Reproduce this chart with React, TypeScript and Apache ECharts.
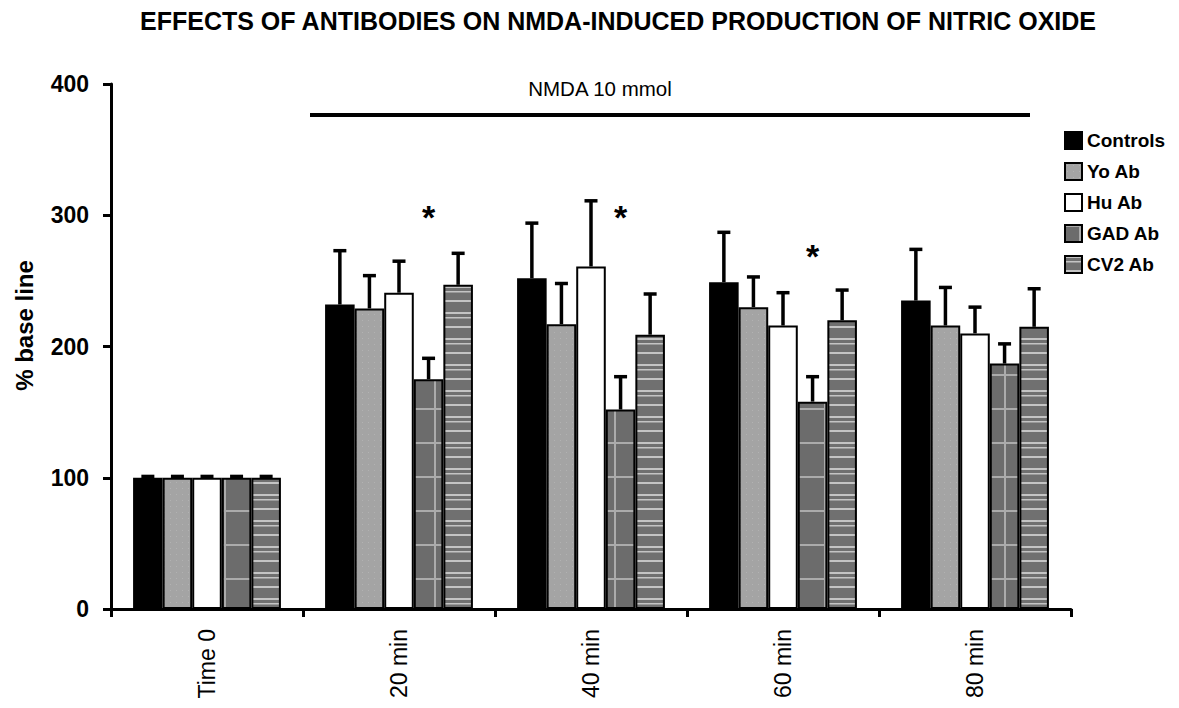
import React, { useEffect, useRef } from 'react';
import * as echarts from 'echarts';

const categories = ['Time 0', '20 min', '40 min', '60 min', '80 min'];
const seriesNames = ['Controls', 'Yo Ab', 'Hu Ab', 'GAD Ab', 'CV2 Ab'];

const controls = [100, 232, 252, 249, 235];
const yoAb = [100, 229, 217, 230, 216];
const huAb = [100, 241, 261, 216, 210];
const gadAb = [100, 175, 152, 158, 187];
const cv2Ab = [100, 247, 209, 220, 215];

const controlsErr = [1, 41, 42, 38, 39];
const yoAbErr = [1, 25, 31, 23, 29];
const huAbErr = [1, 24, 50, 25, 20];
const gadAbErr = [1, 16, 25, 19, 15];
const cv2AbErr = [1, 24, 31, 23, 29];

// significance asterisks over GAD Ab bars: [category index, value]
const asteriskCats = [1, 2, 3];
const asteriskValues = [299, 299, 269];

const yTicks = { min: 0, max: 400, interval: 100 };
const nmdaLabel = 'NMDA 10 mmol';
const titleText = 'EFFECTS OF ANTIBODIES ON NMDA-INDUCED PRODUCTION OF NITRIC OXIDE';

const FONT = 'Liberation Sans, Arial, Helvetica, sans-serif';
const GAP = 0.23;

function tile(w: number, h: number, bg: string, draw: (ctx: CanvasRenderingContext2D) => void) {
  const c = document.createElement('canvas');
  c.width = w;
  c.height = h;
  const ctx = c.getContext('2d')!;
  ctx.fillStyle = bg;
  ctx.fillRect(0, 0, w, h);
  draw(ctx);
  return c;
}

export default function App() {
  const ref = useRef<HTMLDivElement>(null);
  useEffect(() => {
    document.body.style.margin = '0';
    const chart = echarts.init(ref.current!, undefined, { renderer: 'svg' });

    const yoTile = tile(6, 6, '#a4a4a4', (ctx) => {
      ctx.fillStyle = '#b2b2b2';
      ctx.fillRect(2, 2, 1, 1);
    });
    const gadTile = tile(30, 34, '#6c6c6c', (ctx) => {
      ctx.fillStyle = '#ababab';
      ctx.fillRect(14, 0, 2, 34);
      ctx.fillRect(0, 0, 30, 2);
    });
    const cv2Tile = tile(4, 26, '#707070', (ctx) => {
      ctx.fillStyle = '#c4c4c4';
      ctx.fillRect(0, 0, 4, 2);
      ctx.fillRect(0, 5, 4, 1.5);
      ctx.fillRect(0, 14, 4, 2);
    });

    const fills: any[] = [
      '#000000',
      { image: yoTile, repeat: 'repeat' },
      '#ffffff',
      { image: gadTile, repeat: 'repeat' },
      { image: cv2Tile, repeat: 'repeat' },
    ];
    const values = [controls, yoAb, huAb, gadAb, cv2Ab];
    const errs = [controlsErr, yoAbErr, huAbErr, gadAbErr, cv2AbErr];
    const N = seriesNames.length;

    const barSeries = seriesNames.map((name, k) => ({
      name,
      type: 'bar',
      data: values[k],
      barGap: '0%',
      barCategoryGap: GAP * 100 + '%',
      itemStyle: { color: fills[k], borderColor: '#000', borderWidth: 2 },
      z: 2,
    }));

    const offsetX = (api: any, k: number) => {
      const band = api.size([1, 0])[0];
      const barW = (band * (1 - GAP)) / N;
      return (k - (N - 1) / 2) * barW;
    };

    const errSeries = seriesNames.map((_, k) => ({
      type: 'custom',
      z: 3,
      data: categories.map((_c, i) => [i, values[k][i], values[k][i] + errs[k][i]]),
      encode: { x: 0, y: 2 },
      renderItem: (_p: any, api: any) => {
        const i = api.value(0);
        const b = api.coord([i, api.value(1)]);
        const t = api.coord([i, api.value(2)]);
        const x = b[0] + offsetX(api, k);
        return {
          type: 'group',
          children: [
            { type: 'line', shape: { x1: x, y1: b[1], x2: x, y2: t[1] }, style: { stroke: '#000', lineWidth: 3.5 } },
            { type: 'line', shape: { x1: x - 6.5, y1: t[1], x2: x + 6.5, y2: t[1] }, style: { stroke: '#000', lineWidth: 3.5 } },
          ],
        };
      },
    }));

    const starSeries = {
      type: 'custom',
      z: 4,
      data: asteriskCats.map((c, i) => [c, asteriskValues[i]]),
      encode: { x: 0, y: 1 },
      renderItem: (_p: any, api: any) => {
        const p = api.coord([api.value(0), api.value(1)]);
        return {
          type: 'text',
          x: p[0] + offsetX(api, 3),
          y: p[1],
          style: {
            text: '*',
            fill: '#000',
            font: 'bold 34px ' + FONT,
            align: 'center',
            verticalAlign: 'middle',
          },
        };
      },
    };

    chart.setOption({
      animation: false,
      backgroundColor: '#fff',
      title: {
        text: titleText,
        left: 140,
        top: 8,
        padding: 0,
        textStyle: { fontSize: 25, fontWeight: 'bold', fontFamily: FONT, color: '#000' },
      },
      legend: {
        orient: 'vertical',
        left: 1064,
        top: 131,
        padding: 0,
        icon: 'rect',
        itemWidth: 17,
        itemHeight: 17,
        itemGap: 12,
        data: seriesNames,
        textStyle: { fontSize: 19, fontWeight: 'bold', fontFamily: FONT, color: '#000' },
      },
      grid: { left: 111, right: 108, top: 84, bottom: 99, containLabel: false },
      xAxis: {
        type: 'category',
        data: categories,
        axisLine: { lineStyle: { color: '#000', width: 3 } },
        axisTick: { show: true, length: 8, lineStyle: { color: '#000', width: 3 } },
        axisLabel: { rotate: 90, fontSize: 23, fontFamily: FONT, color: '#000', margin: 20 },
      },
      yAxis: {
        type: 'value',
        min: yTicks.min,
        max: yTicks.max,
        interval: yTicks.interval,
        name: '% base line',
        nameLocation: 'middle',
        nameGap: 75,
        nameTextStyle: { fontSize: 24, fontWeight: 'bold', fontFamily: FONT, color: '#000', padding: [0, 0, 0, 42] },
        splitLine: { show: false },
        axisLine: { show: true, lineStyle: { color: '#000', width: 3 } },
        axisTick: { show: true, length: 8, lineStyle: { color: '#000', width: 3 } },
        axisLabel: { fontSize: 23, fontWeight: 'bold', fontFamily: FONT, color: '#000', margin: 22 },
      },
      graphic: [
        {
          type: 'text',
          x: 600,
          y: 88,
          style: { text: nmdaLabel, fill: '#000', font: '20.5px ' + FONT, align: 'center', verticalAlign: 'middle' },
        },
        {
          type: 'line',
          shape: { x1: 310, y1: 115, x2: 1030, y2: 115 },
          style: { stroke: '#000', lineWidth: 4 },
        },
      ],
      series: [...barSeries, ...errSeries, starSeries],
    });
    return () => chart.dispose();
  }, []);
  return <div ref={ref} style={{ width: 1179, height: 708 }} />;
}
